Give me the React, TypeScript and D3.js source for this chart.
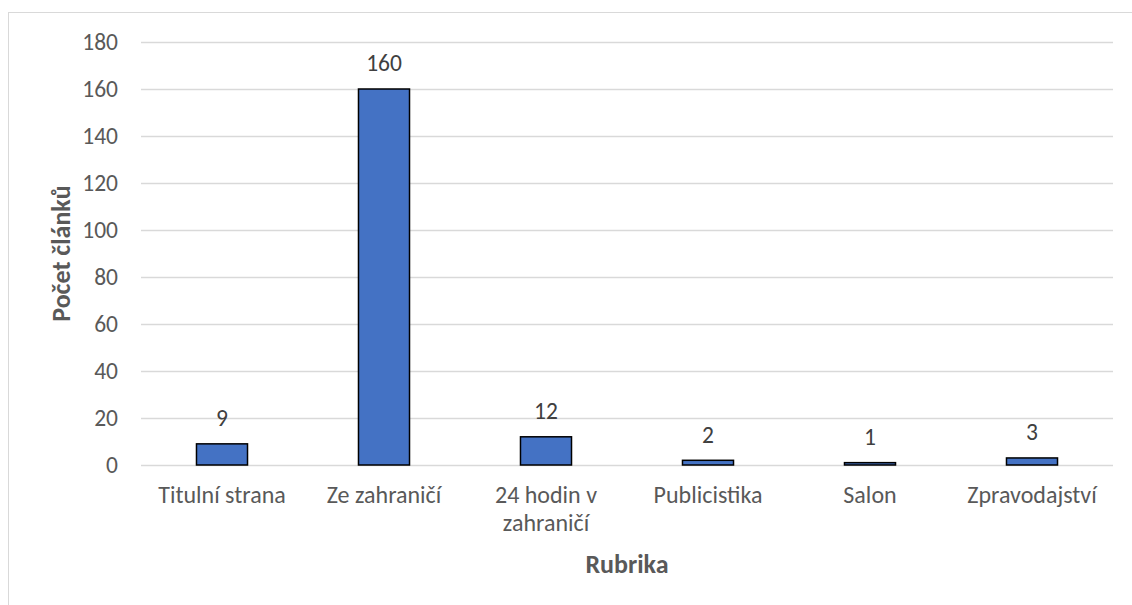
import React, { useEffect, useRef } from "react";
import * as d3 from "d3";

const categories = [
  "Titulní strana",
  "Ze zahraničí",
  "24 hodin v zahraničí",
  "Publicistika",
  "Salon",
  "Zpravodajství",
];
const values = [9, 160, 12, 2, 1, 3];
const yTicks = [0, 20, 40, 60, 80, 100, 120, 140, 160, 180];

const FONT = "Carlito, Calibri, 'Open Sans', sans-serif";

const App: React.FC = () => {
  const svgRef = useRef<SVGSVGElement | null>(null);

  useEffect(() => {
    if (!svgRef.current) return;
    const svg = d3.select(svgRef.current);
    svg.selectAll("*").remove();

    const width = 1132;
    const height = 605;
    const margin = { top: 42, right: 20, bottom: 140, left: 141 };

    // chart frame
    svg
      .append("rect")
      .attr("x", 8.5)
      .attr("y", 12.5)
      .attr("width", 1140)
      .attr("height", 620)
      .attr("fill", "#fff")
      .attr("stroke", "#d9d9d9")
      .attr("stroke-width", 1);

    const x = d3
      .scaleBand()
      .domain(categories)
      .range([margin.left, 1113])
      .paddingInner(0.685)
      .paddingOuter(0.3425);

    const y = d3.scaleLinear().domain([0, 180]).range([465, margin.top]);

    // gridlines
    svg
      .append("g")
      .selectAll("line")
      .data(yTicks)
      .join("line")
      .attr("x1", margin.left)
      .attr("x2", 1113)
      .attr("y1", (d) => Math.round(y(d)) + 0.5)
      .attr("y2", (d) => Math.round(y(d)) + 0.5)
      .attr("stroke", "#d9d9d9")
      .attr("stroke-width", 1.3);

    // y tick labels
    svg
      .append("g")
      .selectAll("text")
      .data(yTicks)
      .join("text")
      .attr("x", 118)
      .attr("y", (d) => y(d))
      .attr("dy", "0.35em")
      .attr("text-anchor", "end")
      .attr("font-family", FONT)
      .attr("font-size", 23.5)
      .attr("fill", "#595959")
      .text((d) => d);

    // bars
    svg
      .append("g")
      .selectAll("rect")
      .data(values)
      .join("rect")
      .attr("x", (_, i) => x(categories[i])!)
      .attr("y", (d) => y(d))
      .attr("width", x.bandwidth())
      .attr("height", (d) => y(0) - y(d))
      .attr("fill", "#4472c4")
      .attr("stroke", "#000")
      .attr("stroke-width", 1.5);

    // value labels
    svg
      .append("g")
      .selectAll("text")
      .data(values)
      .join("text")
      .attr("x", (_, i) => x(categories[i])! + x.bandwidth() / 2)
      .attr("y", (d) => y(d) - 26)
      .attr("dy", "0.35em")
      .attr("text-anchor", "middle")
      .attr("font-family", FONT)
      .attr("font-size", 23.5)
      .attr("fill", "#404040")
      .text((d) => d);

    // category labels (wrapped like Excel)
    const catLines: Record<string, string[]> = {
      "24 hodin v zahraničí": ["24 hodin v", "zahraničí"],
    };
    const cg = svg.append("g");
    categories.forEach((c) => {
      const lines = catLines[c] || [c];
      const t = cg
        .append("text")
        .attr("x", x(c)! + x.bandwidth() / 2)
        .attr("y", 495)
        .attr("text-anchor", "middle")
        .attr("font-family", FONT)
        .attr("font-size", 24)
        .attr("fill", "#595959");
      lines.forEach((l, i) => {
        t.append("tspan")
          .attr("x", x(c)! + x.bandwidth() / 2)
          .attr("dy", i === 0 ? "0.35em" : "1.15em")
          .text(l);
      });
    });

    // axis titles
    svg
      .append("text")
      .attr("x", (margin.left + 1113) / 2)
      .attr("y", 564)
      .attr("dy", "0.35em")
      .attr("text-anchor", "middle")
      .attr("font-family", FONT)
      .attr("font-size", 26)
      .attr("font-weight", "bold")
      .attr("fill", "#595959")
      .text("Rubrika");

    svg
      .append("text")
      .attr("transform", `translate(61,${(465 + margin.top) / 2}) rotate(-90)`)
      .attr("dy", "0.35em")
      .attr("text-anchor", "middle")
      .attr("font-family", FONT)
      .attr("font-size", 26)
      .attr("font-weight", "bold")
      .attr("fill", "#595959")
      .text("Počet článků");

    svg.attr("width", width).attr("height", height);
  }, []);

  return (
    <svg
      ref={svgRef}
      style={{ position: "absolute", left: 0, top: 0, display: "block" }}
    ></svg>
  );
};

export default App;
